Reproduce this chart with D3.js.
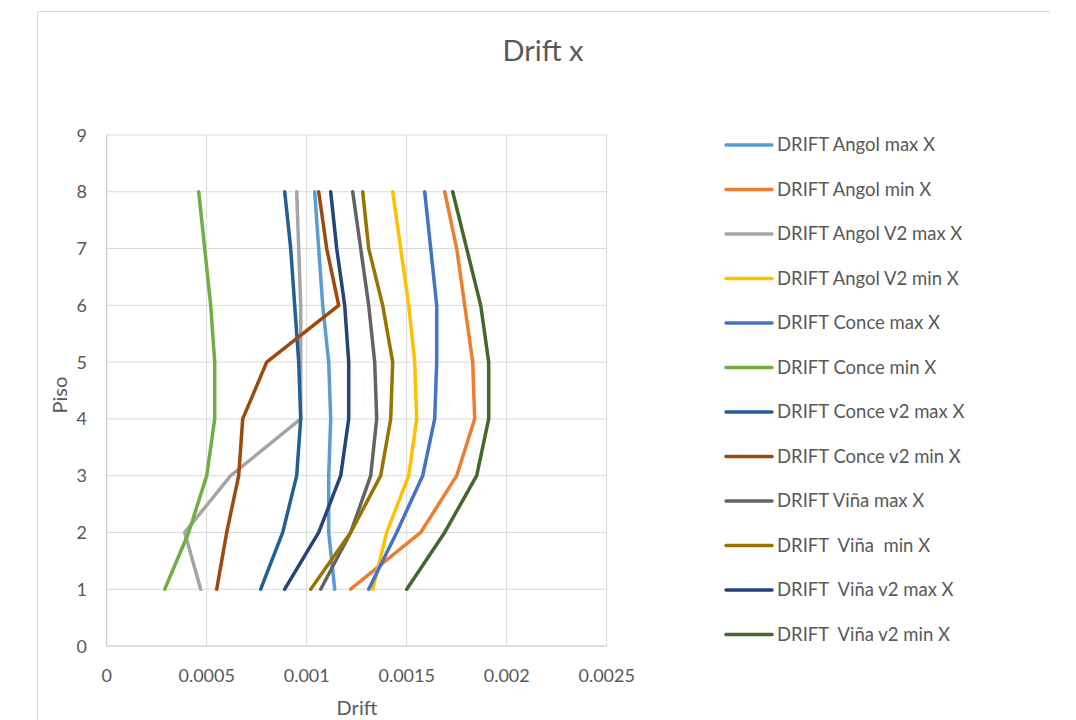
<!DOCTYPE html>
<html>
<head>
<meta charset="utf-8">
<script src="https://cdn.jsdelivr.net/npm/d3@7"></script>
<style>
  body { margin: 0; background: #fff; }
  svg { font-family: Lato, "Open Sans", sans-serif; }
</style>
</head>
<body>
<svg id="chart" width="1076" height="720"></svg>
<script>
// floors (Piso)
const pisos = [1, 2, 3, 4, 5, 6, 7, 8];

const seriesNames = [
  "DRIFT Angol max X",
  "DRIFT Angol min X",
  "DRIFT Angol V2 max X",
  "DRIFT Angol V2 min X",
  "DRIFT Conce max X",
  "DRIFT Conce min X",
  "DRIFT Conce v2 max X",
  "DRIFT Conce v2 min X",
  "DRIFT Viña max X",
  "DRIFT  Viña  min X",
  "DRIFT  Viña v2 max X",
  "DRIFT  Viña v2 min X"
];

const colors = ["#5b9bd5", "#ed7d31", "#a5a5a5", "#ffc000", "#4472c4", "#70ad47",
                "#255e91", "#9e480e", "#636363", "#997300", "#264478", "#43682b"];

// drift per floor, piso 1..8
const angolMax   = [0.00114, 0.00111, 0.00111, 0.00112, 0.00111, 0.00108, 0.00106, 0.00104];
const angolMin   = [0.00122, 0.00157, 0.00175, 0.00184, 0.00183, 0.00179, 0.00175, 0.00169];
const angolV2Max = [0.00047, 0.00039, 0.00062, 0.00097, 0.00097, 0.00097, 0.00096, 0.00095];
const angolV2Min = [0.00133, 0.00140, 0.00151, 0.00155, 0.00154, 0.00151, 0.00147, 0.00143];
const conceMax   = [0.00131, 0.00145, 0.00158, 0.00164, 0.00165, 0.00165, 0.00162, 0.00159];
const conceMin   = [0.00029, 0.00041, 0.00050, 0.00054, 0.00054, 0.00052, 0.00049, 0.00046];
const conceV2Max = [0.00077, 0.00088, 0.00095, 0.00097, 0.00096, 0.00094, 0.00092, 0.00089];
const conceV2Min = [0.00055, 0.00060, 0.00066, 0.00068, 0.00080, 0.00116, 0.00110, 0.00106];
const vinaMax    = [0.00107, 0.00122, 0.00132, 0.00135, 0.00134, 0.00131, 0.00127, 0.00123];
const vinaMin    = [0.00102, 0.00122, 0.00137, 0.00142, 0.00143, 0.00138, 0.00131, 0.00128];
const vinaV2Max  = [0.00089, 0.00106, 0.00117, 0.00121, 0.00121, 0.00119, 0.00115, 0.00112];
const vinaV2Min  = [0.00150, 0.00169, 0.00185, 0.00191, 0.00191, 0.00187, 0.00180, 0.00173];

const seriesValues = [angolMax, angolMin, angolV2Max, angolV2Min, conceMax, conceMin,
                      conceV2Max, conceV2Min, vinaMax, vinaMin, vinaV2Max, vinaV2Min];

const xTicks = [0, 0.0005, 0.001, 0.0015, 0.002, 0.0025];
const xTickLabels = ["0", "0.0005", "0.001", "0.0015", "0.002", "0.0025"];
const yTicks = [0, 1, 2, 3, 4, 5, 6, 7, 8, 9];

const svg = d3.select("#chart");
const textColor = "#595959";
const gridColor = "#d9d9d9";

// chart frame
svg.append("path")
  .attr("d", "M37.5,720 L37.5,11.5 L1050,11.5")
  .attr("fill", "none")
  .attr("stroke", gridColor);

const x = d3.scaleLinear().domain([0, 0.0025]).range([106.7, 606.7]);
const y = d3.scaleLinear().domain([0, 9]).range([646, 135]);

// gridlines
svg.append("g").selectAll("line")
  .data(xTicks.slice(1))
  .enter().append("line")
  .attr("x1", d => x(d)).attr("x2", d => x(d))
  .attr("y1", y(0)).attr("y2", y(9))
  .attr("stroke", gridColor).attr("stroke-width", 1);

svg.append("g").selectAll("line")
  .data(yTicks.slice(1))
  .enter().append("line")
  .attr("x1", x(0)).attr("x2", x(0.0025))
  .attr("y1", d => y(d)).attr("y2", d => y(d))
  .attr("stroke", gridColor).attr("stroke-width", 1);

// axis lines
svg.append("line")
  .attr("x1", x(0)).attr("x2", x(0.0025))
  .attr("y1", y(0)).attr("y2", y(0))
  .attr("stroke", "#bfbfbf");
svg.append("line")
  .attr("x1", x(0)).attr("x2", x(0))
  .attr("y1", y(0)).attr("y2", y(9))
  .attr("stroke", "#bfbfbf");

// tick labels
svg.append("g").selectAll("text")
  .data(xTicks)
  .enter().append("text")
  .attr("x", d => x(d))
  .attr("y", 682)
  .attr("text-anchor", "middle")
  .attr("font-size", 18)
  .attr("fill", textColor)
  .text((d, i) => xTickLabels[i]);

svg.append("g").selectAll("text")
  .data(yTicks)
  .enter().append("text")
  .attr("x", 87)
  .attr("y", d => y(d) + 6.5)
  .attr("text-anchor", "end")
  .attr("font-size", 18)
  .attr("fill", textColor)
  .text(d => d);

// titles
svg.append("text")
  .attr("x", 543).attr("y", 61)
  .attr("text-anchor", "middle")
  .attr("font-size", 29)
  .attr("fill", textColor)
  .text("Drift x");

svg.append("text")
  .attr("x", 357).attr("y", 715)
  .attr("text-anchor", "middle")
  .attr("font-size", 20)
  .attr("fill", textColor)
  .text("Drift");

svg.append("text")
  .attr("transform", "translate(67,395) rotate(-90)")
  .attr("text-anchor", "middle")
  .attr("font-size", 20)
  .attr("fill", textColor)
  .text("Piso");

// series lines
const line = d3.line()
  .x(d => x(d[0]))
  .y(d => y(d[1]));

seriesValues.forEach((vals, i) => {
  const pts = vals.map((v, j) => [v, pisos[j]]);
  svg.append("path")
    .datum(pts)
    .attr("d", line)
    .attr("fill", "none")
    .attr("stroke", colors[i])
    .attr("stroke-width", 3.5)
    .attr("stroke-linejoin", "round")
    .attr("stroke-linecap", "round");
});

// legend
const legend = svg.append("g");
seriesNames.forEach((name, i) => {
  const ly = 145 + i * 44.5;
  legend.append("line")
    .attr("x1", 726).attr("x2", 772)
    .attr("y1", ly).attr("y2", ly)
    .attr("stroke", colors[i])
    .attr("stroke-width", 3.5)
    .attr("stroke-linecap", "round");
  legend.append("text")
    .attr("x", 777).attr("y", ly + 6)
    .attr("font-size", 18.5)
    .attr("fill", textColor)
    .attr("xml:space", "preserve")
    .style("white-space", "pre")
    .text(name);
});
</script>
</body>
</html>
